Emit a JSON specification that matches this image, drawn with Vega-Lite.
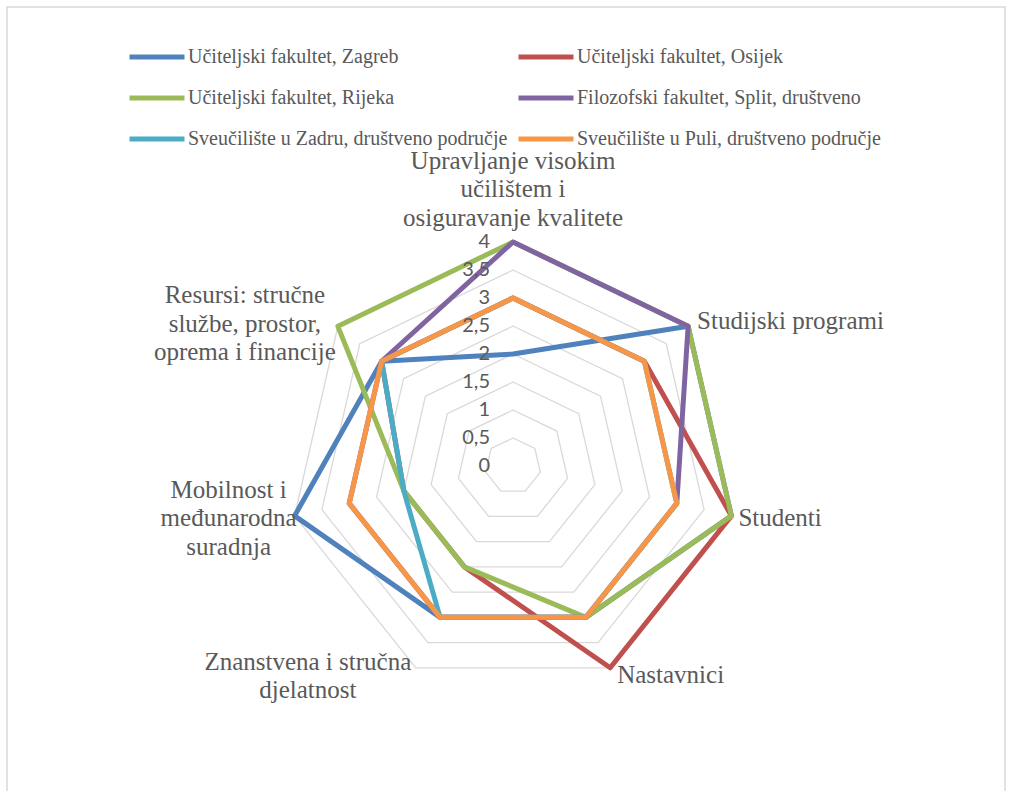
{
  "$schema": "https://vega.github.io/schema/vega-lite/v6.json",
  "width": 998,
  "height": 790,
  "autosize": {"type": "none"},
  "padding": {"left": 7, "top": 7, "right": 6, "bottom": 0},
  "background": "white",
  "config": {
    "view": {"stroke": "#D9D9D9", "strokeWidth": 1.5},
    "text": {"lineBreak": "\n"}
  },
  "datasets": {
    "cats": [
      {"cat": "Upravljanje", "label": "Upravljanje visokim\nučilištem i\nosiguravanje kvalitete", "k": 0, "lvls": [0.5, 1, 1.5, 2, 2.5, 3, 3.5, 4]},
      {"cat": "Studijski programi", "label": "Studijski programi", "k": 1, "lvls": [0.5, 1, 1.5, 2, 2.5, 3, 3.5, 4]},
      {"cat": "Studenti", "label": "Studenti", "k": 2, "lvls": [0.5, 1, 1.5, 2, 2.5, 3, 3.5, 4]},
      {"cat": "Nastavnici", "label": "Nastavnici", "k": 3, "lvls": [0.5, 1, 1.5, 2, 2.5, 3, 3.5, 4]},
      {"cat": "Znanstvena", "label": "Znanstvena i stručna\ndjelatnost", "k": 4, "lvls": [0.5, 1, 1.5, 2, 2.5, 3, 3.5, 4]},
      {"cat": "Mobilnost", "label": "Mobilnost i\nmeđunarodna\nsuradnja", "k": 5, "lvls": [0.5, 1, 1.5, 2, 2.5, 3, 3.5, 4]},
      {"cat": "Resursi", "label": "Resursi: stručne\nslužbe, prostor,\noprema i financije", "k": 6, "lvls": [0.5, 1, 1.5, 2, 2.5, 3, 3.5, 4]}
    ],
    "ticks": [
      {"v": 0, "t": "0"}, {"v": 0.5, "t": "0,5"}, {"v": 1, "t": "1"}, {"v": 1.5, "t": "1,5"},
      {"v": 2, "t": "2"}, {"v": 2.5, "t": "2,5"}, {"v": 3, "t": "3"}, {"v": 3.5, "t": "3,5"}, {"v": 4, "t": "4"}
    ],
    "scores": [
      {"s": "Učiteljski fakultet, Zagreb", "cat": "Upravljanje", "v": 2},
      {"s": "Učiteljski fakultet, Zagreb", "cat": "Studijski programi", "v": 4},
      {"s": "Učiteljski fakultet, Zagreb", "cat": "Studenti", "v": 4},
      {"s": "Učiteljski fakultet, Zagreb", "cat": "Nastavnici", "v": 3},
      {"s": "Učiteljski fakultet, Zagreb", "cat": "Znanstvena", "v": 3},
      {"s": "Učiteljski fakultet, Zagreb", "cat": "Mobilnost", "v": 4},
      {"s": "Učiteljski fakultet, Zagreb", "cat": "Resursi", "v": 3},
      {"s": "Učiteljski fakultet, Osijek", "cat": "Upravljanje", "v": 3},
      {"s": "Učiteljski fakultet, Osijek", "cat": "Studijski programi", "v": 3},
      {"s": "Učiteljski fakultet, Osijek", "cat": "Studenti", "v": 4},
      {"s": "Učiteljski fakultet, Osijek", "cat": "Nastavnici", "v": 4},
      {"s": "Učiteljski fakultet, Osijek", "cat": "Znanstvena", "v": 2},
      {"s": "Učiteljski fakultet, Osijek", "cat": "Mobilnost", "v": 2},
      {"s": "Učiteljski fakultet, Osijek", "cat": "Resursi", "v": 3},
      {"s": "Učiteljski fakultet, Rijeka", "cat": "Upravljanje", "v": 4},
      {"s": "Učiteljski fakultet, Rijeka", "cat": "Studijski programi", "v": 4},
      {"s": "Učiteljski fakultet, Rijeka", "cat": "Studenti", "v": 4},
      {"s": "Učiteljski fakultet, Rijeka", "cat": "Nastavnici", "v": 3},
      {"s": "Učiteljski fakultet, Rijeka", "cat": "Znanstvena", "v": 2},
      {"s": "Učiteljski fakultet, Rijeka", "cat": "Mobilnost", "v": 2},
      {"s": "Učiteljski fakultet, Rijeka", "cat": "Resursi", "v": 4},
      {"s": "Filozofski fakultet, Split, društveno", "cat": "Upravljanje", "v": 4},
      {"s": "Filozofski fakultet, Split, društveno", "cat": "Studijski programi", "v": 4},
      {"s": "Filozofski fakultet, Split, društveno", "cat": "Studenti", "v": 3},
      {"s": "Filozofski fakultet, Split, društveno", "cat": "Nastavnici", "v": 3},
      {"s": "Filozofski fakultet, Split, društveno", "cat": "Znanstvena", "v": 3},
      {"s": "Filozofski fakultet, Split, društveno", "cat": "Mobilnost", "v": 3},
      {"s": "Filozofski fakultet, Split, društveno", "cat": "Resursi", "v": 3},
      {"s": "Sveučilište u Zadru, društveno područje", "cat": "Upravljanje", "v": 3},
      {"s": "Sveučilište u Zadru, društveno područje", "cat": "Studijski programi", "v": 3},
      {"s": "Sveučilište u Zadru, društveno područje", "cat": "Studenti", "v": 3},
      {"s": "Sveučilište u Zadru, društveno područje", "cat": "Nastavnici", "v": 3},
      {"s": "Sveučilište u Zadru, društveno područje", "cat": "Znanstvena", "v": 3},
      {"s": "Sveučilište u Zadru, društveno područje", "cat": "Mobilnost", "v": 2},
      {"s": "Sveučilište u Zadru, društveno područje", "cat": "Resursi", "v": 3},
      {"s": "Sveučilište u Puli, društveno područje", "cat": "Upravljanje", "v": 3},
      {"s": "Sveučilište u Puli, društveno područje", "cat": "Studijski programi", "v": 3},
      {"s": "Sveučilište u Puli, društveno područje", "cat": "Studenti", "v": 3},
      {"s": "Sveučilište u Puli, društveno područje", "cat": "Nastavnici", "v": 3},
      {"s": "Sveučilište u Puli, društveno područje", "cat": "Znanstvena", "v": 3},
      {"s": "Sveučilište u Puli, društveno područje", "cat": "Mobilnost", "v": 3},
      {"s": "Sveučilište u Puli, društveno područje", "cat": "Resursi", "v": 3}
    ]
  },
  "layer": [
    {
      "data": {"name": "cats"},
      "transform": [
        {"flatten": ["lvls"], "as": ["lvl"]},
        {"calculate": "datum.k * 2 * PI / 7", "as": "a"},
        {"calculate": "datum.lvl * sin(datum.a)", "as": "x"},
        {"calculate": "datum.lvl * cos(datum.a)", "as": "y"}
      ],
      "mark": {"type": "line", "interpolate": "linear-closed", "color": "#D9D9D9", "strokeWidth": 1.3},
      "encoding": {
        "x": {"field": "x", "type": "quantitative", "scale": {"domain": [-9.036, 8.786], "zero": false, "nice": false}, "axis": null},
        "y": {"field": "y", "type": "quantitative", "scale": {"domain": [-5.911, 8.196], "zero": false, "nice": false}, "axis": null},
        "detail": {"field": "lvl", "type": "nominal"},
        "order": {"field": "k", "type": "quantitative"}
      }
    },
    {
      "data": {"name": "scores"},
      "transform": [
        {"lookup": "cat", "from": {"data": {"name": "cats"}, "key": "cat", "fields": ["k"]}},
        {"calculate": "datum.k * 2 * PI / 7", "as": "a"},
        {"calculate": "datum.v * sin(datum.a)", "as": "x"},
        {"calculate": "datum.v * cos(datum.a)", "as": "y"}
      ],
      "mark": {"type": "line", "interpolate": "linear-closed", "strokeWidth": 5, "strokeJoin": "round"},
      "encoding": {
        "x": {"field": "x", "type": "quantitative"},
        "y": {"field": "y", "type": "quantitative"},
        "order": {"field": "k", "type": "quantitative"},
        "color": {
          "field": "s",
          "type": "nominal",
          "scale": {
            "domain": ["Učiteljski fakultet, Zagreb", "Učiteljski fakultet, Osijek", "Učiteljski fakultet, Rijeka", "Filozofski fakultet, Split, društveno", "Sveučilište u Zadru, društveno područje", "Sveučilište u Puli, društveno područje"],
            "range": ["#4F81BD", "#C0504D", "#9BBB59", "#8064A2", "#4BACC6", "#F79646"]
          },
          "legend": {
            "orient": "none",
            "direction": "horizontal",
            "legendX": 138,
            "legendY": 38,
            "columns": 2,
            "title": null,
            "symbolType": "M-3,0H3",
            "symbolSize": 336,
            "symbolStrokeWidth": 5,
            "labelOffset": 19,
            "labelFont": "Liberation Serif",
            "labelFontSize": 20,
            "labelColor": "#595959",
            "rowPadding": 19,
            "columnPadding": 0,
            "labelLimit": 500,
            "padding": 0
          }
        }
      }
    },
    {
      "data": {"name": "ticks"},
      "transform": [
        {"calculate": "0", "as": "x"},
        {"calculate": "datum.v", "as": "y"}
      ],
      "mark": {"type": "text", "align": "right", "baseline": "middle", "dx": -23, "font": "Lato", "fontSize": 20, "color": "#595959"},
      "encoding": {
        "x": {"field": "x", "type": "quantitative"},
        "y": {"field": "y", "type": "quantitative"},
        "text": {"field": "t"}
      }
    },
    {
      "data": {"name": "cats"},
      "transform": [
        {"filter": "datum.k == 0"},
        {"calculate": "4 * sin(datum.k * 2 * PI / 7)", "as": "x"},
        {"calculate": "4 * cos(datum.k * 2 * PI / 7)", "as": "y"}
      ],
      "mark": {"type": "text", "align": "center", "baseline": "middle", "dx": 0, "dy": -81, "font": "Liberation Serif", "fontSize": 25, "lineHeight": 28.5, "color": "#595959"},
      "encoding": {"x": {"field": "x", "type": "quantitative"}, "y": {"field": "y", "type": "quantitative"}, "text": {"field": "label"}}
    },
    {
      "data": {"name": "cats"},
      "transform": [
        {"filter": "datum.k == 1"},
        {"calculate": "4 * sin(datum.k * 2 * PI / 7)", "as": "x"},
        {"calculate": "4 * cos(datum.k * 2 * PI / 7)", "as": "y"}
      ],
      "mark": {"type": "text", "align": "left", "baseline": "middle", "dx": 9, "dy": -5, "font": "Liberation Serif", "fontSize": 25, "lineHeight": 28.5, "color": "#595959"},
      "encoding": {"x": {"field": "x", "type": "quantitative"}, "y": {"field": "y", "type": "quantitative"}, "text": {"field": "label"}}
    },
    {
      "data": {"name": "cats"},
      "transform": [
        {"filter": "datum.k == 2"},
        {"calculate": "4 * sin(datum.k * 2 * PI / 7)", "as": "x"},
        {"calculate": "4 * cos(datum.k * 2 * PI / 7)", "as": "y"}
      ],
      "mark": {"type": "text", "align": "left", "baseline": "middle", "dx": 7, "dy": 2, "font": "Liberation Serif", "fontSize": 25, "lineHeight": 28.5, "color": "#595959"},
      "encoding": {"x": {"field": "x", "type": "quantitative"}, "y": {"field": "y", "type": "quantitative"}, "text": {"field": "label"}}
    },
    {
      "data": {"name": "cats"},
      "transform": [
        {"filter": "datum.k == 3"},
        {"calculate": "4 * sin(datum.k * 2 * PI / 7)", "as": "x"},
        {"calculate": "4 * cos(datum.k * 2 * PI / 7)", "as": "y"}
      ],
      "mark": {"type": "text", "align": "left", "baseline": "middle", "dx": 7, "dy": 7, "font": "Liberation Serif", "fontSize": 25, "lineHeight": 28.5, "color": "#595959"},
      "encoding": {"x": {"field": "x", "type": "quantitative"}, "y": {"field": "y", "type": "quantitative"}, "text": {"field": "label"}}
    },
    {
      "data": {"name": "cats"},
      "transform": [
        {"filter": "datum.k == 4"},
        {"calculate": "4 * sin(datum.k * 2 * PI / 7)", "as": "x"},
        {"calculate": "4 * cos(datum.k * 2 * PI / 7)", "as": "y"}
      ],
      "mark": {"type": "text", "align": "center", "baseline": "middle", "dx": -108, "dy": -6, "font": "Liberation Serif", "fontSize": 25, "lineHeight": 28.5, "color": "#595959"},
      "encoding": {"x": {"field": "x", "type": "quantitative"}, "y": {"field": "y", "type": "quantitative"}, "text": {"field": "label"}}
    },
    {
      "data": {"name": "cats"},
      "transform": [
        {"filter": "datum.k == 5"},
        {"calculate": "4 * sin(datum.k * 2 * PI / 7)", "as": "x"},
        {"calculate": "4 * cos(datum.k * 2 * PI / 7)", "as": "y"}
      ],
      "mark": {"type": "text", "align": "center", "baseline": "middle", "dx": -66, "dy": -26, "font": "Liberation Serif", "fontSize": 25, "lineHeight": 28.5, "color": "#595959"},
      "encoding": {"x": {"field": "x", "type": "quantitative"}, "y": {"field": "y", "type": "quantitative"}, "text": {"field": "label"}}
    },
    {
      "data": {"name": "cats"},
      "transform": [
        {"filter": "datum.k == 6"},
        {"calculate": "4 * sin(datum.k * 2 * PI / 7)", "as": "x"},
        {"calculate": "4 * cos(datum.k * 2 * PI / 7)", "as": "y"}
      ],
      "mark": {"type": "text", "align": "center", "baseline": "middle", "dx": -93, "dy": -31, "font": "Liberation Serif", "fontSize": 25, "lineHeight": 28.5, "color": "#595959"},
      "encoding": {"x": {"field": "x", "type": "quantitative"}, "y": {"field": "y", "type": "quantitative"}, "text": {"field": "label"}}
    }
  ]
}
